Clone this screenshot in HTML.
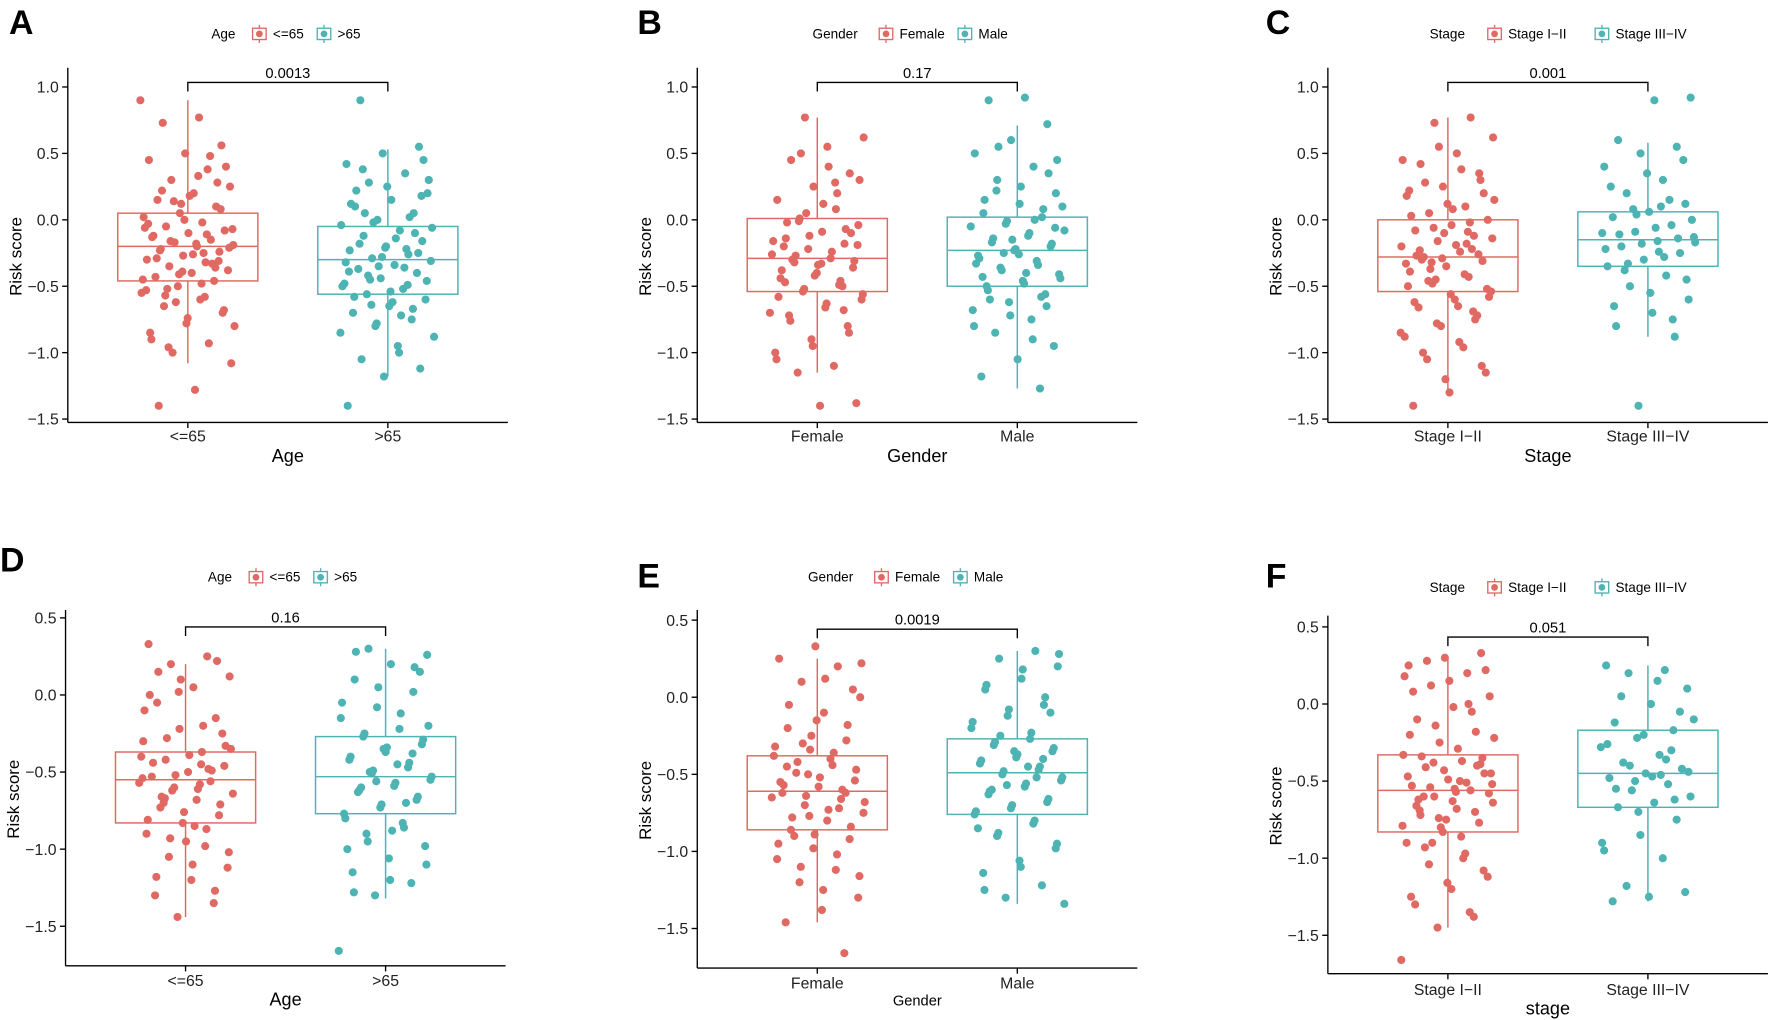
<!DOCTYPE html>
<html><head><meta charset="utf-8">
<style>
html,body{margin:0;padding:0;background:#fff;}
svg{display:block;font-family:"Liberation Sans",Arial,sans-serif;}
</style></head>
<body>
<svg id="fig" width="1772" height="1020" viewBox="0 0 1568 903" preserveAspectRatio="none" xmlns="http://www.w3.org/2000/svg"></svg>
<script>
// ---- data ----
const panelIds = ["A","B","C","D","E","F"];
const categoriesA = ["<=65",">65"];
const categoriesB = ["Female","Male"];
const categoriesC = ["Stage I\u2212II","Stage III\u2212IV"];
const pValues = ["0.0013","0.17","0.001","0.16","0.0019","0.051"];
const ticksTop = [1.0,0.5,0.0,-0.5,-1.0,-1.5];
const ticksBottom = [0.5,0.0,-0.5,-1.0,-1.5];
// box stats: [group1, group2] per panel
const q3s  = [[0.05,-0.05],[0.01,0.02],[0.0,0.06],[-0.37,-0.27],[-0.38,-0.27],[-0.33,-0.17]];
const meds = [[-0.2,-0.3],[-0.29,-0.23],[-0.28,-0.15],[-0.55,-0.53],[-0.61,-0.49],[-0.56,-0.45]];
const q1s  = [[-0.46,-0.56],[-0.54,-0.5],[-0.54,-0.35],[-0.83,-0.77],[-0.86,-0.76],[-0.83,-0.67]];
const highs= [[0.9,0.53],[0.77,0.71],[0.77,0.58],[0.2,0.3],[0.25,0.3],[0.3,0.25]];
const lows = [[-1.08,-1.18],[-1.15,-1.27],[-1.3,-0.88],[-1.44,-1.32],[-1.46,-1.34],[-1.45,-1.28]];
// point values
const ptsA1=[0.9,0.77,0.73,0.56,0.5,0.45,0.38,0.3,0.25,0.2,0.15,0.1,0.05,0.02,-0.02,-0.05,-0.08,-0.1,-0.13,-0.15,-0.17,-0.19,-0.2,-0.22,-0.24,-0.27,-0.3,-0.32,-0.35,-0.38,-0.4,-0.43,-0.46,-0.5,-0.55,-0.6,-0.65,-0.7,-0.78,-0.85,-0.93,-1.0,-1.08,-1.28,-1.4,0.28,0.12,-0.06,-0.25,-0.52,0.4,0.18,-0.12,-0.33,-0.62,-0.8,
 0.33,0.22,0.08,0.0,-0.03,-0.11,-0.16,-0.21,-0.26,-0.29,-0.36,-0.41,-0.45,-0.48,-0.57,-0.68,-0.74,-0.9,0.48,0.14,-0.07,-0.18,-0.23,-0.31,-0.39,-0.53,-0.58,-0.96];
const ptsA2=[0.9,0.55,0.5,0.42,0.35,0.28,0.2,0.15,0.1,0.05,0.0,-0.04,-0.08,-0.12,-0.16,-0.2,-0.23,-0.26,-0.29,-0.31,-0.34,-0.37,-0.4,-0.44,-0.48,-0.52,-0.56,-0.6,-0.65,-0.7,-0.75,-0.8,-0.88,-0.95,-1.05,-1.12,-1.18,-1.4,-0.22,-0.45,0.3,-0.62,0.22,-0.1,-0.35,-0.5,-0.72,0.05,
 0.45,0.25,0.12,0.02,-0.02,-0.06,-0.14,-0.18,-0.25,-0.28,-0.32,-0.36,-0.42,-0.46,-0.54,-0.58,-0.67,-0.78,-0.85,-1.0,0.38,0.18,-0.21,-0.39,-0.49,-0.64];
const ptsB1=[0.77,0.62,0.55,0.45,0.35,0.25,0.15,0.08,0.01,-0.04,-0.09,-0.14,-0.18,-0.22,-0.26,-0.29,-0.32,-0.36,-0.4,-0.44,-0.49,-0.54,-0.6,-0.66,-0.72,-0.8,-0.9,-1.0,-1.1,-1.15,-1.38,-1.4,-0.2,-0.5,0.05,-0.7,0.4,-0.3,-0.1,-0.42,-0.58,0.2,
 0.5,0.3,0.12,-0.02,-0.07,-0.12,-0.16,-0.24,-0.27,-0.31,-0.34,-0.38,-0.46,-0.52,-0.56,-0.63,-0.76,-0.85,-0.95,-1.05,0.28,-0.01,-0.19,-0.33,-0.47,-0.68];
const ptsB2=[0.92,0.9,0.72,0.6,0.5,0.4,0.3,0.2,0.12,0.05,0.02,-0.03,-0.08,-0.12,-0.17,-0.2,-0.23,-0.27,-0.31,-0.36,-0.41,-0.46,-0.5,-0.56,-0.62,-0.68,-0.75,-0.85,-0.95,-1.05,-1.18,-1.27,-0.25,0.1,-0.4,-0.6,0.35,-0.15,-0.33,0.0,
 0.55,0.45,0.25,0.15,0.08,-0.01,-0.05,-0.1,-0.14,-0.18,-0.22,-0.29,-0.34,-0.38,-0.44,-0.48,-0.53,-0.65,-0.72,-0.8,-0.9,0.22,-0.06,-0.26,-0.43,-0.58];
const ptsC1=[0.77,0.73,0.62,0.5,0.42,0.35,0.25,0.18,0.1,0.05,0.0,-0.04,-0.08,-0.12,-0.16,-0.2,-0.24,-0.28,-0.31,-0.35,-0.39,-0.43,-0.48,-0.54,-0.6,-0.66,-0.72,-0.8,-0.88,-0.96,-1.05,-1.15,-1.3,-1.4,-0.22,-0.45,0.15,-0.65,-0.3,0.3,-0.1,-0.5,-0.18,-0.37,-0.58,0.08,-0.27,-0.75,
 0.55,0.45,0.38,0.28,0.2,0.12,0.03,-0.02,-0.06,-0.14,-0.19,-0.23,-0.26,-0.29,-0.33,-0.41,-0.46,-0.52,-0.56,-0.62,-0.69,-0.78,-0.85,-0.92,-1.0,-1.1,-1.2,0.22,-0.09,-0.32];
const ptsC2=[0.92,0.9,0.6,0.55,0.5,0.4,0.3,0.2,0.12,0.06,0.02,-0.04,-0.09,-0.13,-0.16,-0.2,-0.25,-0.3,-0.35,-0.42,-0.5,-0.6,-0.7,-0.8,-0.88,-1.4,-0.1,0.1,-0.38,
 0.45,0.35,0.25,0.15,0.08,0.0,-0.06,-0.11,-0.14,-0.18,-0.22,-0.28,-0.33,-0.45,-0.55,-0.65,-0.75,0.04,-0.17,-0.24];
const ptsD1=[0.33,0.25,0.2,0.12,0.05,-0.05,-0.15,-0.22,-0.3,-0.37,-0.42,-0.46,-0.5,-0.53,-0.56,-0.6,-0.64,-0.68,-0.73,-0.78,-0.83,-0.9,-0.98,-1.05,-1.12,-1.2,-1.3,-1.35,-1.44,-0.4,-0.58,-0.7,-0.25,-0.95,0.0,-0.48,-0.62,-0.35,-0.85,0.15,
 0.22,0.1,-0.1,-0.2,-0.28,-0.33,-0.39,-0.44,-0.49,-0.52,-0.57,-0.61,-0.66,-0.71,-0.76,-0.81,-0.87,-0.93,-1.02,-1.1,-1.18,-1.27,0.02,-0.54,-0.45,-0.67];
const ptsD2=[0.3,0.26,0.2,0.1,0.02,-0.08,-0.15,-0.22,-0.27,-0.32,-0.37,-0.42,-0.47,-0.51,-0.55,-0.59,-0.63,-0.68,-0.73,-0.77,-0.83,-0.9,-0.98,-1.06,-1.15,-1.22,-1.3,-1.66,-0.45,-0.6,0.15,-0.35,-1.0,-0.7,-0.5,-0.2,-0.88,
 0.28,0.18,0.05,-0.05,-0.12,-0.25,-0.29,-0.34,-0.4,-0.44,-0.49,-0.53,-0.57,-0.62,-0.66,-0.71,-0.8,-0.86,-0.95,-1.1,-1.2,-1.28,-0.38,-0.56];
const ptsE1=[0.33,0.25,0.2,0.1,0.0,-0.1,-0.2,-0.28,-0.34,-0.38,-0.44,-0.49,-0.54,-0.58,-0.62,-0.66,-0.7,-0.75,-0.8,-0.86,-0.92,-0.98,-1.05,-1.12,-1.2,-1.3,-1.38,-1.46,-1.66,-0.5,-0.65,-0.4,-0.9,0.05,-0.15,-0.55,-0.72,-0.3,
 0.22,0.12,-0.05,-0.18,-0.25,-0.32,-0.36,-0.42,-0.47,-0.52,-0.57,-0.6,-0.64,-0.68,-0.73,-0.78,-0.84,-0.89,-0.95,-1.02,-1.1,-1.16,-1.25,-0.45,-0.62,-0.77];
const ptsE2=[0.3,0.25,0.2,0.12,0.05,-0.05,-0.12,-0.2,-0.27,-0.31,-0.35,-0.39,-0.43,-0.47,-0.5,-0.54,-0.58,-0.63,-0.68,-0.72,-0.76,-0.82,-0.9,-0.98,-1.06,-1.14,-1.22,-1.3,-1.34,-0.45,-0.6,-0.1,-0.35,-0.85,-0.52,-0.25,
 0.28,0.18,0.08,0.0,-0.08,-0.16,-0.23,-0.29,-0.33,-0.37,-0.41,-0.45,-0.48,-0.52,-0.56,-0.61,-0.66,-0.7,-0.74,-0.8,-0.88,-0.95,-1.1,-1.25,-0.4,-0.57];
const ptsF1=[0.33,0.3,0.25,0.2,0.12,0.05,-0.02,-0.1,-0.18,-0.25,-0.33,-0.37,-0.41,-0.45,-0.49,-0.53,-0.56,-0.6,-0.64,-0.68,-0.72,-0.77,-0.83,-0.9,-0.97,-1.04,-1.12,-1.2,-1.3,-1.38,-1.45,-1.66,-0.5,-0.6,-0.35,-0.75,-0.2,0.0,-0.9,-0.45,-0.55,-0.62,-0.4,-0.8,0.18,-1.0,
 0.28,0.22,0.15,0.08,-0.05,-0.14,-0.22,-0.29,-0.34,-0.39,-0.43,-0.47,-0.51,-0.54,-0.58,-0.63,-0.66,-0.7,-0.74,-0.79,-0.86,-0.93,-1.08,-1.16,-1.25,-1.35,-0.38,-0.52,-0.57,-0.69];
const ptsF2=[0.25,0.22,0.2,0.1,0.0,-0.12,-0.17,-0.22,-0.28,-0.33,-0.38,-0.42,-0.45,-0.48,-0.52,-0.56,-0.6,-0.64,-0.67,-0.75,-0.85,-0.95,-1.0,-1.18,-1.22,-1.25,-1.28,-0.3,-0.5,-0.1,
 0.15,0.05,-0.05,-0.2,-0.26,-0.36,-0.4,-0.44,-0.47,-0.55,-0.62,-0.7,-0.9,-0.46];
const points=[[ptsA1,ptsA2],[ptsB1,ptsB2],[ptsC1,ptsC2],[ptsD1,ptsD2],[ptsE1,ptsE2],[ptsF1,ptsF2]];

// ---- layout (not data) ----
const NS="http://www.w3.org/2000/svg";
const svg=document.getElementById("fig");
const COLS=["#E06A63","#4DB3B3"];
const layout=[
 {ax:60, yRef:77, vRef:1.0, k:117.6, top:60, bottom:374, ticks:ticksTop, cats:categoriesA, title:"Age", legT:"Age", legX:187, legY:30, letX:8, letY:30, xlabY:391, xtitY:409, xtitS:16, brY:73},
 {ax:617,yRef:77, vRef:1.0, k:117.6, top:60, bottom:374, ticks:ticksTop, cats:categoriesB, title:"Gender", legT:"Gender", legX:719, legY:30, letX:564, letY:30, xlabY:391, xtitY:409, xtitS:16, brY:73},
 {ax:1175,yRef:77,vRef:1.0, k:117.6, top:60, bottom:374, ticks:ticksTop, cats:categoriesC, title:"Stage", legT:"Stage", legX:1265, legY:30, letX:1120, letY:30, xlabY:391, xtitY:409, xtitS:16, brY:73},
 {ax:58, yRef:547,vRef:0.5, k:136.5, top:540, bottom:855, ticks:ticksBottom, cats:categoriesA, title:"Age", legT:"Age", legX:184, legY:511, letX:0, letY:506, xlabY:873, xtitY:890, xtitS:16, brY:555},
 {ax:617,yRef:549,vRef:0.5, k:136.5, top:540, bottom:857, ticks:ticksBottom, cats:categoriesB, title:"Gender", legT:"Gender", legX:715, legY:511, letX:564, letY:520, xlabY:875, xtitY:890, xtitS:13, brY:557},
 {ax:1175,yRef:555,vRef:0.5,k:136.5, top:545, bottom:862, ticks:ticksBottom, cats:categoriesC, title:"stage", legT:"Stage", legX:1265, legY:520, letX:1120, letY:520, xlabY:881, xtitY:898, xtitS:16, brY:564}
];
const SP=177;

function mk(tag,attrs,parent){const e=document.createElementNS(NS,tag);for(const a in attrs)e.setAttribute(a,attrs[a]);(parent||svg).appendChild(e);return e;}
function txt(s,attrs,parent){const e=mk("text",attrs,parent);e.textContent=s;return e;}

layout.forEach((L,pi)=>{
  const g=mk("g",{});
  
  
  const y=v=>L.yRef+(L.vRef-v)*L.k;
  const cx=i=>L.ax+SP*(0.6+i);
  const right=L.ax+SP*2.2;
  const lt=txt(panelIds[pi],{x:L.letX,y:L.letY,"font-size":30,"font-weight":"bold",fill:"#000"},g);
  
  
  const ya=mk("line",{x1:L.ax,y1:L.top,x2:L.ax,y2:L.bottom,stroke:"#000","stroke-width":1.2},g);
  
  
  const xa=mk("line",{x1:L.ax,y1:L.bottom,x2:right,y2:L.bottom,stroke:"#000","stroke-width":1.2},g);
  
  
  L.ticks.forEach(t=>{
    mk("line",{x1:L.ax-5,y1:y(t),x2:L.ax,y2:y(t),stroke:"#000","stroke-width":1.2},g);
    const tl=txt((t<0?"\u2212":"")+Math.abs(t).toFixed(1),{x:L.ax-8,y:y(t)+5,"font-size":14,"text-anchor":"end",fill:"#222"},g);
    
    
  });
  const ytit=txt("Risk score",{x:0,y:0,"font-size":15,"text-anchor":"middle",fill:"#000",transform:`translate(${L.ax-41},${(L.top+L.bottom)/2+10}) rotate(-90)`},g);
  
  
  L.cats.forEach((c,i)=>{
    mk("line",{x1:cx(i),y1:L.bottom,x2:cx(i),y2:L.bottom+5,stroke:"#000","stroke-width":1.2},g);
    const xl=txt(c,{x:cx(i),y:L.xlabY,"font-size":14,"text-anchor":"middle",fill:"#222"},g);
    
    
  });
  const xt=txt(L.title,{x:(L.ax+right)/2,y:L.xtitY,"font-size":L.xtitS,"text-anchor":"middle",fill:"#000"},g);
  
  
  [0,1].forEach(i=>{
    const col=COLS[i],c=cx(i),hw=62;
    const wl=mk("line",{x1:c,y1:y(highs[pi][i]),x2:c,y2:y(lows[pi][i]),stroke:col,"stroke-width":1.3},g);
    
    
    const bx=mk("rect",{x:c-hw,y:y(q3s[pi][i]),width:hw*2,height:y(q1s[pi][i])-y(q3s[pi][i]),fill:"#fff",stroke:col,"stroke-width":1.3},g);
    
    
    const md=mk("line",{x1:c-hw,y1:y(meds[pi][i]),x2:c+hw,y2:y(meds[pi][i]),stroke:col,"stroke-width":1.3},g);
    
    
    points[pi][i].forEach((v,j)=>{
      const jit=(((j*0.618034+pi*0.37+i*0.21)%1)-0.5)*84;
      const p=mk("circle",{cx:c+jit,cy:y(v),r:3.6,fill:col},g);
      
      
    });
  });
  const br=mk("path",{d:`M${cx(0)},${L.brY+8}V${L.brY}H${cx(1)}V${L.brY+8}`,fill:"none",stroke:"#000","stroke-width":1.2},g);
  
  
  const pv=txt(pValues[pi],{x:(cx(0)+cx(1))/2,y:L.brY-4,"font-size":13,"text-anchor":"middle",fill:"#000"},g);
  
  
  const lg=mk("g",{},g);
  
  
  const lw=L.legT.length*7.5+12;
  txt(L.legT,{x:L.legX,y:L.legY+4,"font-size":12,fill:"#000"},lg);
  let x=L.legX+lw;
  L.cats.forEach((c,i)=>{
    const e=mk("g",{},lg);
    
    
    mk("line",{x1:x+8,y1:L.legY-8,x2:x+8,y2:L.legY+8,stroke:COLS[i],"stroke-width":1.2},e);
    mk("rect",{x:x+2,y:L.legY-5,width:12,height:10,fill:"#fff",stroke:COLS[i],"stroke-width":1.2},e);
    mk("circle",{cx:x+8,cy:L.legY,r:3,fill:COLS[i]},e);
    txt(c,{x:x+20,y:L.legY+4,"font-size":12,fill:"#000"},e);
    x+=20+c.length*6.3+12;
  });
});
</script>
</body></html>
